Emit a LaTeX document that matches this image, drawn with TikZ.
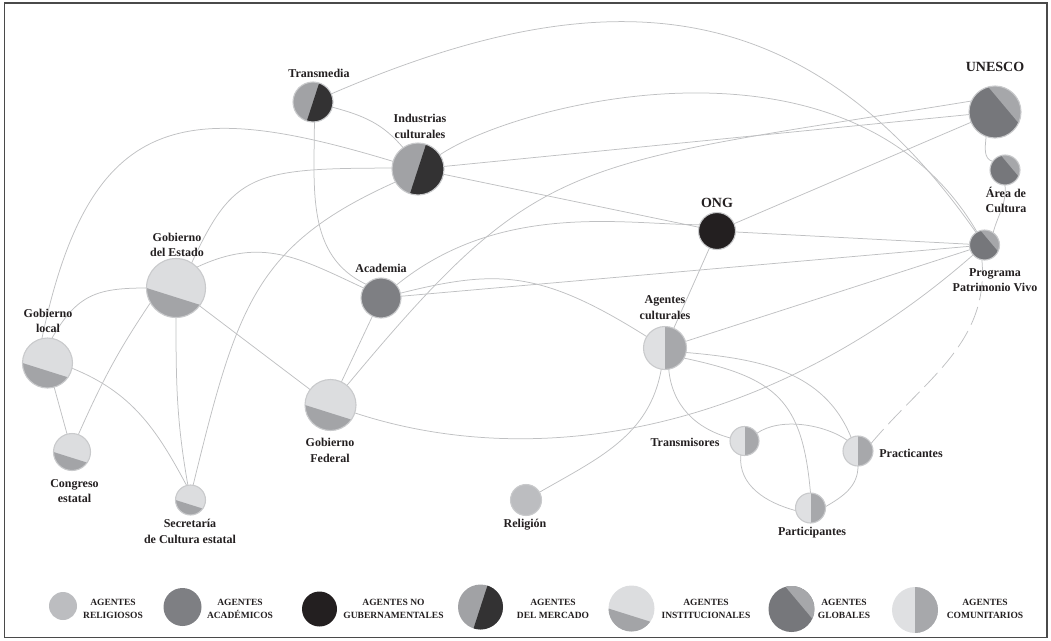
\documentclass[tikz,border=0pt]{standalone}
\usepackage{fontspec}
\setmainfont{Liberation Serif}
\definecolor{relc}{HTML}{BCBDC0}
\definecolor{acac}{HTML}{7E7F83}
\definecolor{ngc}{HTML}{231F20}
\definecolor{merlight}{HTML}{A1A2A5}
\definecolor{merdark}{HTML}{333233}
\definecolor{instlight}{HTML}{DCDDDF}
\definecolor{instdark}{HTML}{A3A4A7}
\definecolor{globdark}{HTML}{76777B}
\definecolor{globlight}{HTML}{A6A7AA}
\definecolor{commlight}{HTML}{DFE0E2}
\definecolor{commdark}{HTML}{A7A8AB}
\definecolor{ringc}{HTML}{C9CACC}
\definecolor{linkc}{HTML}{BFC0C2}
\definecolor{txtc}{HTML}{231F20}
\definecolor{framec}{HTML}{4A4A4A}
\pgfdeclarelayer{bg}
\pgfsetlayers{bg,main}
\tikzset{
  agent/.style={circle, inner sep=0pt, outer sep=0pt, minimum size=2*#1, draw=ringc, line width=1.1pt},
  relig/.style={agent=#1, fill=relc},
  acad/.style={agent=#1, fill=acac},
  ngo/.style={agent=#1, fill=ngc},
  merc/.style={agent=#1, fill=merlight, path picture={\fill[merdark] (path picture bounding box.center) ++(72:40) -- ++(-18:40) -- ++(252:80) -- ++(162:40) -- cycle;}},
  inst/.style={agent=#1, fill=instlight, path picture={\fill[instdark] (path picture bounding box.center) ++(180:#1) arc[start angle=180, end angle=325, radius=#1] -- cycle;}},
  glob/.style={agent=#1, fill=globdark, path picture={\fill[globlight] (path picture bounding box.center) ++(-25:#1) arc[start angle=-25, end angle=105, radius=#1] -- cycle;}},
  comm/.style={agent=#1, fill=commlight, path picture={\fill[commdark] (path picture bounding box.north) rectangle (path picture bounding box.south east);}},
  lbl/.style={font=\fontsize{12}{15.5}\selectfont\bfseries, text=txtc, align=center, inner sep=0pt},
  biglbl/.style={lbl, font=\fontsize{14}{16}\selectfont\bfseries},
  legt/.style={font=\fontsize{9.5}{13.5}\selectfont\bfseries, text=txtc, align=center, inner sep=0pt},
  link/.style={draw=linkc, line width=0.75pt},
  dlink/.style={link, dash pattern=on 19pt off 7pt},
}
\begin{document}
\begin{tikzpicture}[x=1pt,y=1pt]
\useasboundingbox (0,0) rectangle (1051,-640);
\draw[framec, line width=1.6pt] (4.5,-3) rectangle (1047,-637.5);

% agents
\node[merc=20] (tm) at (313,-102) {};
\node[merc=26] (ic) at (418,-169) {};
\node[glob=26] (un) at (995,-112) {};
\node[glob=15] (ac) at (1005,-170) {};
\node[ngo=18.5] (ong) at (717,-231) {};
\node[glob=15] (ppv) at (984.5,-245) {};
\node[inst=29.5] (ge) at (176,-288) {};
\node[acad=20] (aca) at (381,-298) {};
\node[comm=21.5] (agc) at (665,-348) {};
\node[inst=25] (gl) at (47.5,-363) {};
\node[inst=25.5] (gf) at (330.5,-405) {};
\node[inst=18.5] (ce) at (72,-452) {};
\node[inst=15] (sec) at (190.5,-500) {};
\node[relig=15.5] (rel) at (526,-500) {};
\node[comm=14.5] (tr) at (744.5,-441) {};
\node[comm=15] (pr) at (858,-451) {};
\node[comm=15] (pa) at (810.5,-508) {};

% labels
\node[lbl] (tm-l) at (319,-73) {Transmedia};
\node[lbl] (ic-l) at (420,-126.5) {Industrias\\culturales};
\node[biglbl] (un-l) at (995,-67) {UNESCO};
\node[lbl] (ac-l) at (1006,-200) {Área de\\Cultura};
\node[biglbl] (ong-l) at (717,-203) {ONG};
\node[lbl] (ppv-l) at (995,-280) {Programa\\Patrimonio Vivo};
\node[lbl] (ge-l) at (177,-245) {Gobierno\\del Estado};
\node[lbl] (aca-l) at (381,-268) {Academia};
\node[lbl] (agc-l) at (665,-307.5) {Agentes\\culturales};
\node[lbl] (gl-l) at (48,-321) {Gobierno\\local};
\node[lbl] (gf-l) at (330,-450.5) {Gobierno\\Federal};
\node[lbl] (ce-l) at (74.5,-491) {Congreso\\estatal};
\node[lbl] (sec-l) at (190,-531.5) {Secretaría\\de Cultura estatal};
\node[lbl] (rel-l) at (525,-525) {Religión};
\node[lbl] (tr-l) at (685,-442) {Transmisores};
\node[lbl] (pr-l) at (911,-453) {Practicantes};
\node[lbl] (pa-l) at (812,-533) {Participantes};

% legend
\node[relig=14, draw=none] (lg1) at (63,-606) {};
\node[legt] (lt1) at (113,-609) {AGENTES\\RELIGIOSOS};
\node[acad=19, draw=none] (lg2) at (182.5,-607) {};
\node[legt] (lt2) at (240,-609) {AGENTES\\ACADÉMICOS};
\node[ngo=17.5, draw=none] (lg3) at (319.5,-609) {};
\node[legt] (lt3) at (393.5,-609) {AGENTES NO\\GUBERNAMENTALES};
\node[merc=22.5, draw=none] (lg4) at (480.5,-607) {};
\node[legt] (lt4) at (553,-609) {AGENTES\\DEL MERCADO};
\node[inst=23, draw=none] (lg5) at (631.5,-608.5) {};
\node[legt] (lt5) at (706,-609) {AGENTES\\INSTITUCIONALES};
\node[glob=23, draw=none] (lg6) at (791.5,-609) {};
\node[legt] (lt6) at (844,-609) {AGENTES\\GLOBALES};
\node[comm=23, draw=none] (lg7) at (915,-610) {};
\node[legt] (lt7) at (985,-609) {AGENTES\\COMUNITARIOS};

% connectors
\begin{pgfonlayer}{bg}
\draw[link] (tm.24) .. controls (600,22) and (804,14) .. (ppv.124);
\draw[link] (ic.33) .. controls (517,-103) and (851,-16) .. (ppv.120);
\draw[link] (un.155) .. controls (566,-167) and (542,-151) .. (gf.50);
\draw[link] (gf.-18) .. controls (528,-470) and (763,-439) .. (ppv.221);
\draw[link] (ic.163) .. controls (184,-98) and (90,-110) .. (gl.103);
\draw[link] (ic.178) .. controls (252,-168) and (233,-174) .. (ge.58);
\draw[link] (ic.210) .. controls (255,-245) and (237,-306) .. (sec.80);
\draw[link] (ong.160) .. controls (627,-225) and (501,-200) .. (aca.40);
\draw[link] (aca.14) .. controls (497,-269) and (541,-270) .. (agc.148);
\draw[link] (tm.-15) to[out=-15,in=130] (ic.125);
\draw[link] (tm.-86) to[out=-90,in=155] (aca.137);
\draw[link] (ic) -- (un);
\draw[link] (ic) -- (ong);
\draw[link] (un) -- (ong);
\draw[link] (un.250) to[out=265,in=165] (ac.145);
\draw[link] (ac.-90) to[out=-85,in=75] (ppv.55);
\draw[link] (ong) -- (ppv);
\draw[link] (ong) -- (agc);
\draw[link] (aca) -- (ppv);
\draw[link] (aca) -- (gf);
\draw[link] (agc) -- (ppv);
\draw[link] (ge.45) to[out=25,in=155,looseness=1.1] (aca.150);
\draw[link] (ge.180) to[out=180,in=60,looseness=1.2] (gl.80);
\draw[link] (ge.210) to[out=236,in=66] (ce.70);
\draw[link] (ge.-90) to[out=-90,in=100] (sec.100);
\draw[link] (ge) -- (gf);
\draw[link] (gl) -- (ce);
\draw[link] (gl.-12) to[out=-22,in=118] (sec.105);
\draw[link] (agc.-100) to[out=-100,in=30] (rel.30);
\draw[link] (agc.-80) to[out=-85,in=165] (tr.168);
\draw[link] (agc.-28) to[out=-12,in=95,looseness=1.3] (pa.90);
\draw[link] (agc.-12) to[out=-5,in=112] (pr.117);
\draw[link] (tr.32) to[out=35,in=145,looseness=0.8] (pr.135);
\draw[link] (tr.-105) to[out=-95,in=165] (pa.190);
\draw[link] (pr.-90) to[out=-90,in=30] (pa.5);
\draw[dlink] (pr.30) to[out=50,in=-85] (ppv.-100);
\end{pgfonlayer}
\end{tikzpicture}
\end{document}
